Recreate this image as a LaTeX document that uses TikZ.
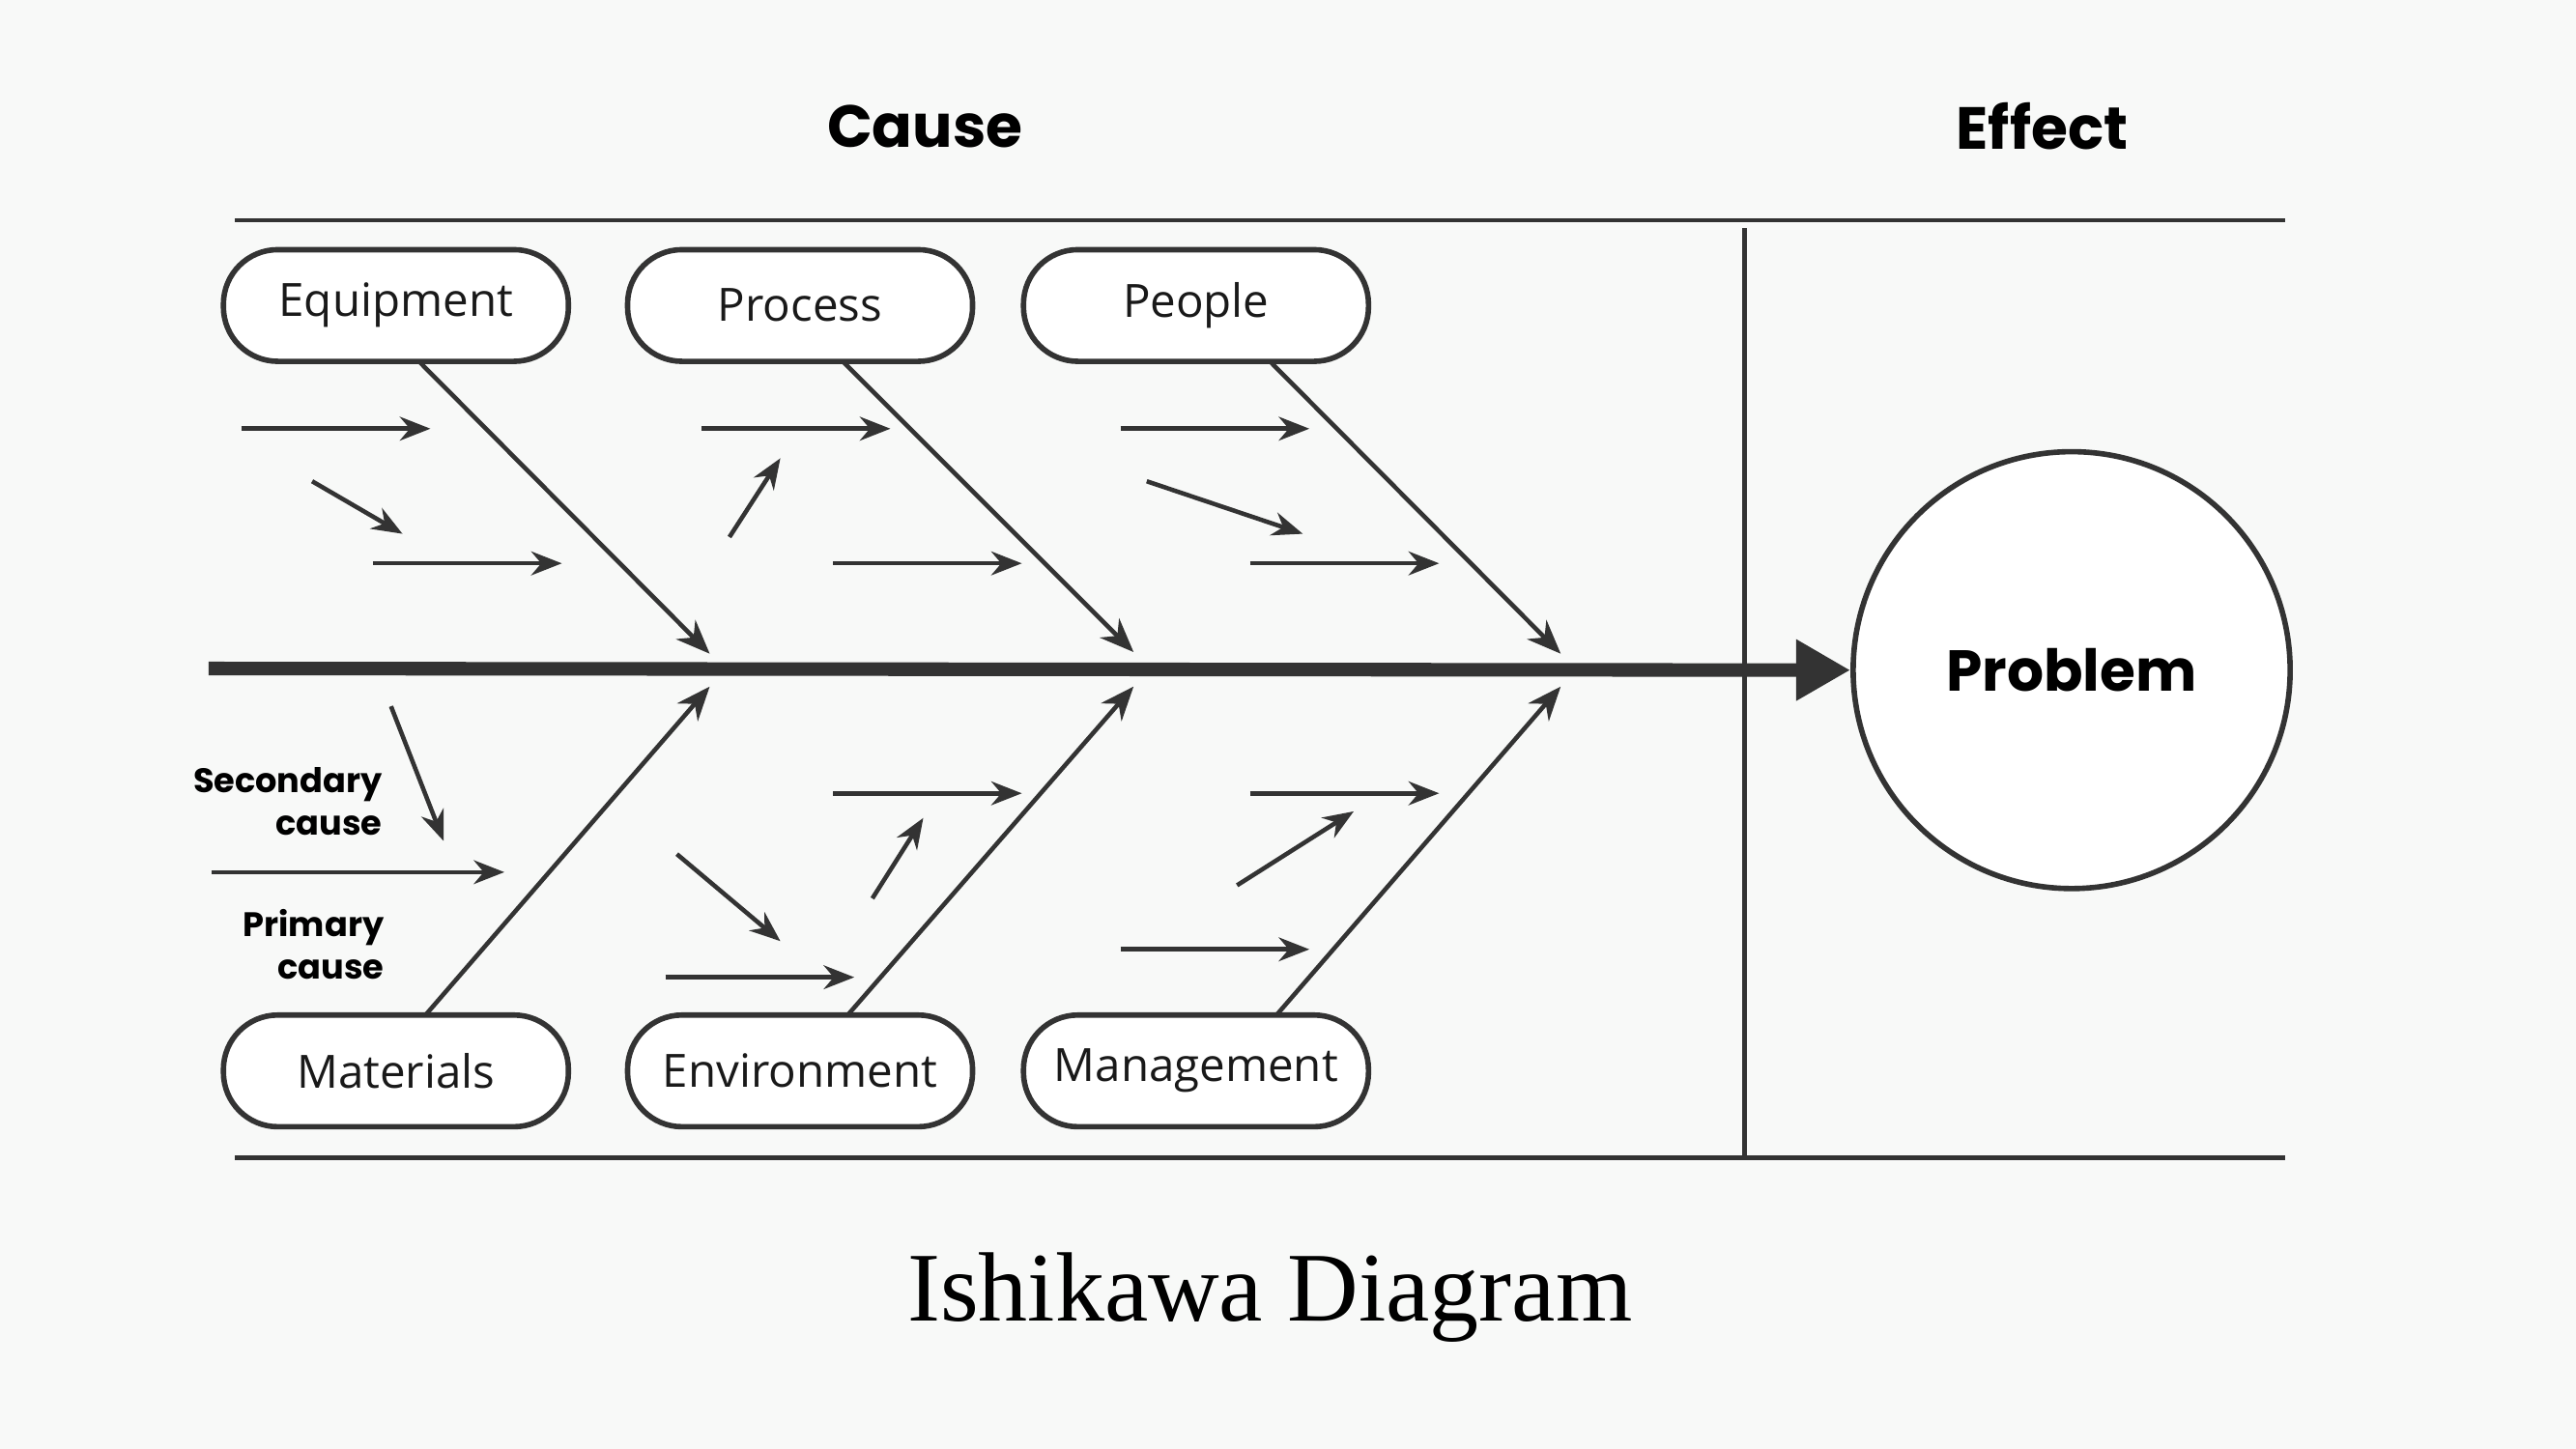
\documentclass[tikz,border=0pt]{standalone}
\usepackage{fontspec}
\setmainfont{Open Sans}
\newfontfamily\headf{Poppins}
\newfontfamily\titlef{Liberation Serif}
\usetikzlibrary{arrows.meta}
\definecolor{bg}{HTML}{F8F9F8}
\definecolor{ink}{HTML}{333333}
\begin{document}
\begin{tikzpicture}[x=0.017cm,y=-0.017cm,
  pill/.style={draw=ink,line width=1.6pt,rounded corners=16pt,minimum width=210*0.017cm,minimum height=68*0.017cm,fill=white,font=\fontsize{13.5}{16}\selectfont,text=black!90},
  bone/.style={draw=ink,line width=1.3pt,-{Stealth[length=10pt,width=8pt]}},
  sm/.style={draw=ink,line width=1.3pt,-{Stealth[length=9pt,width=7pt]}},
  frame/.style={draw=ink,line width=1.3pt}]
\fill[bg] (0,0) rectangle (1568,882);
\useasboundingbox (0,0) rectangle (1568,882);
\node[font=\headf\bfseries\fontsize{17.5}{20}\selectfont] (cause) at (563,77) {Cause};
\node[font=\headf\bfseries\fontsize{17.5}{20}\selectfont] (effect) at (1243,77) {Effect};
\coordinate (tl) at (143,134); \coordinate (tr) at (1391,134);
\coordinate (bl) at (143,705); \coordinate (br) at (1391,705);
\coordinate (vt) at (1062,139); \coordinate (vb) at (1062,705);
\draw[frame] (tl)--(tr); \draw[frame] (bl)--(br); \draw[frame] (vt)--(vb);
\node[circle,draw=ink,line width=1.6pt,fill=white,minimum size=266*0.017cm,font=\headf\bfseries\fontsize{17}{20}\selectfont] (prob) at (1261,408) {Problem};
\coordinate (s0) at (127,407);
\draw[draw=ink,line width=4pt,-{Triangle[length=16pt,width=17pt]}] (s0) -- (prob.west);
\node[pill] (eq) at (241,186) {Equipment};
\node[pill] (pr) at (487,186) {Process};
\node[pill] (pe) at (728,186) {People};
\node[pill] (ma) at (241,652) {Materials};
\node[pill] (en) at (487,652) {Environment};
\node[pill] (mg) at (728,652) {Management};
\coordinate (e1) at (432,398); \coordinate (e2) at (690,397); \coordinate (e3) at (950,398);
\coordinate (f1) at (432,418); \coordinate (f2) at (690,418); \coordinate (f3) at (950,418);
\draw[bone] (255,220) -- (e1); \draw[bone] (513,220) -- (e2); \draw[bone] (773,220) -- (e3);
\draw[bone] (259,618) -- (f1); \draw[bone] (516,618) -- (f2); \draw[bone] (777,618) -- (f3);
\foreach \a/\b/\c/\d in {147/261/262/261,190/293/245/325,227/343/342/343,427/261/542/261,444/327/475/279,507/343/622/343,682/261/797/261,698/293/793/325,761/343/876/343,238/430/270/512,129/531/307/531,412/520/475/573,405/595/520/595,507/483/622/483,531/547/562/498,761/483/876/483,753/539/824/494,682/578/797/578}
  \draw[sm] (\a,\b) -- (\c,\d);
\node[font=\headf\bfseries\fontsize{10}{12.5}\selectfont,align=right,anchor=east] (sec) at (240,488) {Secondary\\cause};
\node[font=\headf\bfseries\fontsize{10}{12.5}\selectfont,align=right,anchor=east] (pri) at (241,575) {Primary\\cause};
\node[font=\titlef\fontsize{29}{32}\selectfont] (title) at (773,790) {Ishikawa Diagram};
\end{tikzpicture}
\end{document}
